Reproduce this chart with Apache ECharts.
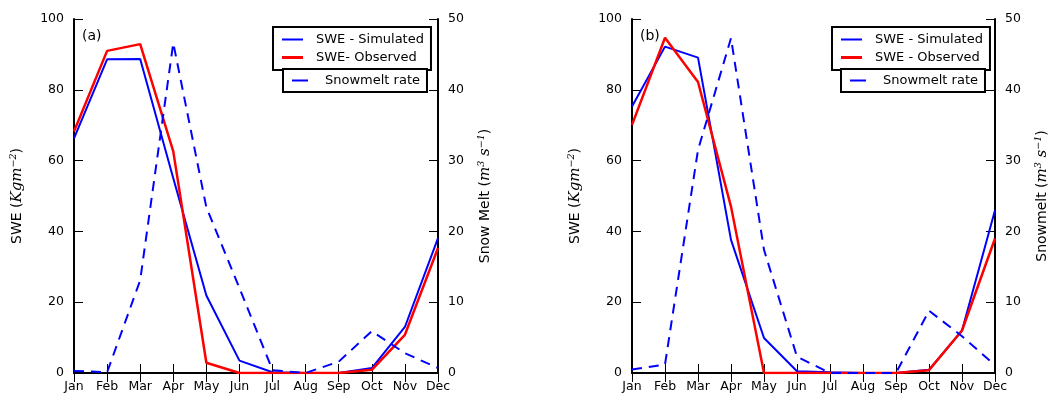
<!DOCTYPE html>
<html>
<head>
<meta charset="utf-8">
<script src="https://cdn.jsdelivr.net/npm/echarts@6/dist/echarts.min.js"></script>
<style>
html,body{margin:0;padding:0;background:#fff;}
#c{width:1055px;height:400px;}
</style>
</head>
<body>
<div id="c"></div>
<script>
var months = ['Jan','Feb','Mar','Apr','May','Jun','Jul','Aug','Sep','Oct','Nov','Dec'];
var sweTicks = [0, 20, 40, 60, 80, 100];
var meltTicks = [0, 10, 20, 30, 40, 50];

// Panel (a)
var simA  = [66.3, 88.6, 88.7, 55.0, 21.9, 3.5, 0.2, 0, 0, 1.4, 13.0, 38.1];
var obsA  = [68.2, 91.0, 92.9, 62.6, 2.9, 0, 0, 0, 0, 0.9, 10.8, 35.3];
var meltA = [0.3, 0.1, 13.1, 46.6, 23.4, 12.0, 0.4, 0, 1.6, 5.9, 2.8, 0.7];

// Panel (b)
var simB  = [75.3, 92.2, 89.1, 37.6, 9.9, 0.5, 0.2, 0, 0, 0.9, 12.0, 46.0];
var obsB  = [70.1, 94.7, 82.2, 47.0, 0, 0, 0, 0, 0, 0.8, 12.0, 38.0];
var meltB = [0.5, 1.2, 31.5, 47.3, 17.4, 2.3, 0, 0, 0, 8.8, 5.2, 1.1];

var FONT = 'DejaVu Sans';
var BLUE = '#0000ff', RED = '#ff0000';

var chart = echarts.init(document.getElementById('c'), null, {renderer: 'canvas'});

var grids = [
  {left: 74, top: 19, width: 364, height: 354},
  {left: 632, top: 19, width: 363, height: 354}
];

var richName = {
  t: {fontSize: 14, fontFamily: FONT, color: '#000'},
  i: {fontSize: 15, fontStyle: 'italic', fontFamily: 'DejaVu Serif', color: '#000'},
  s: {fontSize: 9.5, fontStyle: 'italic', fontFamily: 'DejaVu Serif', color: '#000', verticalAlign: 'top', padding: [0, 0, 6, 0]}
};

function xAxes(gi) {
  return [
    {
      type: 'category', gridIndex: gi, data: months, boundaryGap: false, position: 'bottom',
      axisLine: {show: true, lineStyle: {color: '#000', width: 2}},
      axisTick: {show: true, inside: true, length: 9, alignWithLabel: true, lineStyle: {color: '#000', width: 1}},
      axisLabel: {show: true, margin: 7, fontSize: 12.5, fontFamily: FONT, color: '#000', interval: 0},
      splitLine: {show: false}
    },
    {
      type: 'category', gridIndex: gi, data: months, boundaryGap: false, position: 'top',
      axisLine: {show: true, lineStyle: {color: '#000', width: 2}},
      axisTick: {show: true, inside: true, length: 9, alignWithLabel: true, lineStyle: {color: '#000', width: 1}},
      axisLabel: {show: false},
      splitLine: {show: false}
    }
  ];
}

function yAxes(gi, rightName) {
  return [
    {
      type: 'value', gridIndex: gi, position: 'left', min: sweTicks[0], max: sweTicks[sweTicks.length - 1], interval: 20,
      axisLine: {show: true, lineStyle: {color: '#000', width: 2}},
      axisTick: {show: true, inside: true, length: 9, lineStyle: {color: '#000', width: 1}},
      axisLabel: {margin: 10, fontSize: 12.5, fontFamily: FONT, color: '#000'},
      splitLine: {show: false},
      name: '{t|SWE (}{i|Kgm}{s|−2}{t|)}',
      nameLocation: 'middle', nameRotate: 90, nameGap: 49,
      nameTextStyle: {rich: richName}
    },
    {
      type: 'value', gridIndex: gi, position: 'right', min: meltTicks[0], max: meltTicks[meltTicks.length - 1], interval: 10,
      axisLine: {show: true, lineStyle: {color: '#000', width: 2}},
      axisTick: {show: true, inside: true, length: 9, lineStyle: {color: '#000', width: 1}},
      axisLabel: {margin: 10, fontSize: 12.5, fontFamily: FONT, color: '#000'},
      splitLine: {show: false},
      name: '{t|' + rightName + ' (}{i|m}{s|3}{i| s}{s|−1}{t|)}',
      nameLocation: 'middle', nameRotate: 90, nameGap: 39,
      nameTextStyle: {rich: richName}
    }
  ];
}

function lineSeries(name, data, xi, yi, color, width, dashed) {
  return {
    name: name, type: 'line', data: data, xAxisIndex: xi, yAxisIndex: yi,
    symbol: 'none', showSymbol: false, animation: false, silent: true,
    lineStyle: {color: color, width: width, type: dashed ? [10, 7] : 'solid'},
    itemStyle: {color: color},
    z: dashed ? 4 : 3
  };
}

function legendBox(left, top, items, iconW, pad) {
  return {
    left: left, top: top, orient: 'vertical',
    data: items,
    padding: pad, itemGap: 5, itemWidth: iconW, itemHeight: 14,
    borderColor: '#000', borderWidth: 2, backgroundColor: '#fff',
    selectedMode: false, z: 10,
    textStyle: {fontSize: 13, fontFamily: FONT, color: '#000'}
  };
}

// legend glyphs: a short bar at the left plus a hair-thin end mark that widens the gap to the text
var thinBar  = 'path://M0,0h21v2H0z M28.99,0h0.01v2h-0.01z';
var thickBar = 'path://M0,0h21v3H0z M28.99,0h0.01v3h-0.01z';
var shortBar = 'path://M0,0h16v2H0z M27.99,0h0.01v2h-0.01z';

var option = {
  backgroundColor: '#fff',
  animation: false,
  grid: grids,
  xAxis: xAxes(0).concat(xAxes(1)),
  yAxis: yAxes(0, 'Snow Melt').concat(yAxes(1, 'Snowmelt')),
  legend: [
    legendBox(273, 27, [{name: 'SWE - Simulated', icon: thinBar}, {name: 'SWE- Observed', icon: thickBar}], 29, [6, 7, 6, 9]),
    legendBox(283, 69, [{name: 'Snowmelt rate', icon: shortBar}], 28, [5, 7, 5, 9]),
    legendBox(832, 27, [{name: 'SWE - Simulated', icon: thinBar}, {name: 'SWE - Observed', icon: thickBar}], 29, [6, 7, 6, 9]),
    legendBox(841, 69, [{name: 'Snowmelt rate', icon: shortBar}], 28, [5, 7, 5, 9])
  ],
  graphic: [
    {type: 'text', left: 82, top: 29, style: {text: '(a)', fontSize: 14, fontFamily: FONT, fill: '#000'}, z: 20},
    {type: 'text', left: 640, top: 29, style: {text: '(b)', fontSize: 14, fontFamily: FONT, fill: '#000'}, z: 20}
  ],
  series: [
    lineSeries('SWE - Simulated', simA, 0, 0, BLUE, 2, false),
    lineSeries('SWE- Observed', obsA, 0, 0, RED, 2.5, false),
    lineSeries('Snowmelt rate', meltA, 0, 1, BLUE, 2, true),
    lineSeries('SWE - Simulated', simB, 2, 2, BLUE, 2, false),
    lineSeries('SWE - Observed', obsB, 2, 2, RED, 2.5, false),
    lineSeries('Snowmelt rate', meltB, 2, 3, BLUE, 2, true)
  ]
};
chart.setOption(option);
</script>
</body>
</html>
